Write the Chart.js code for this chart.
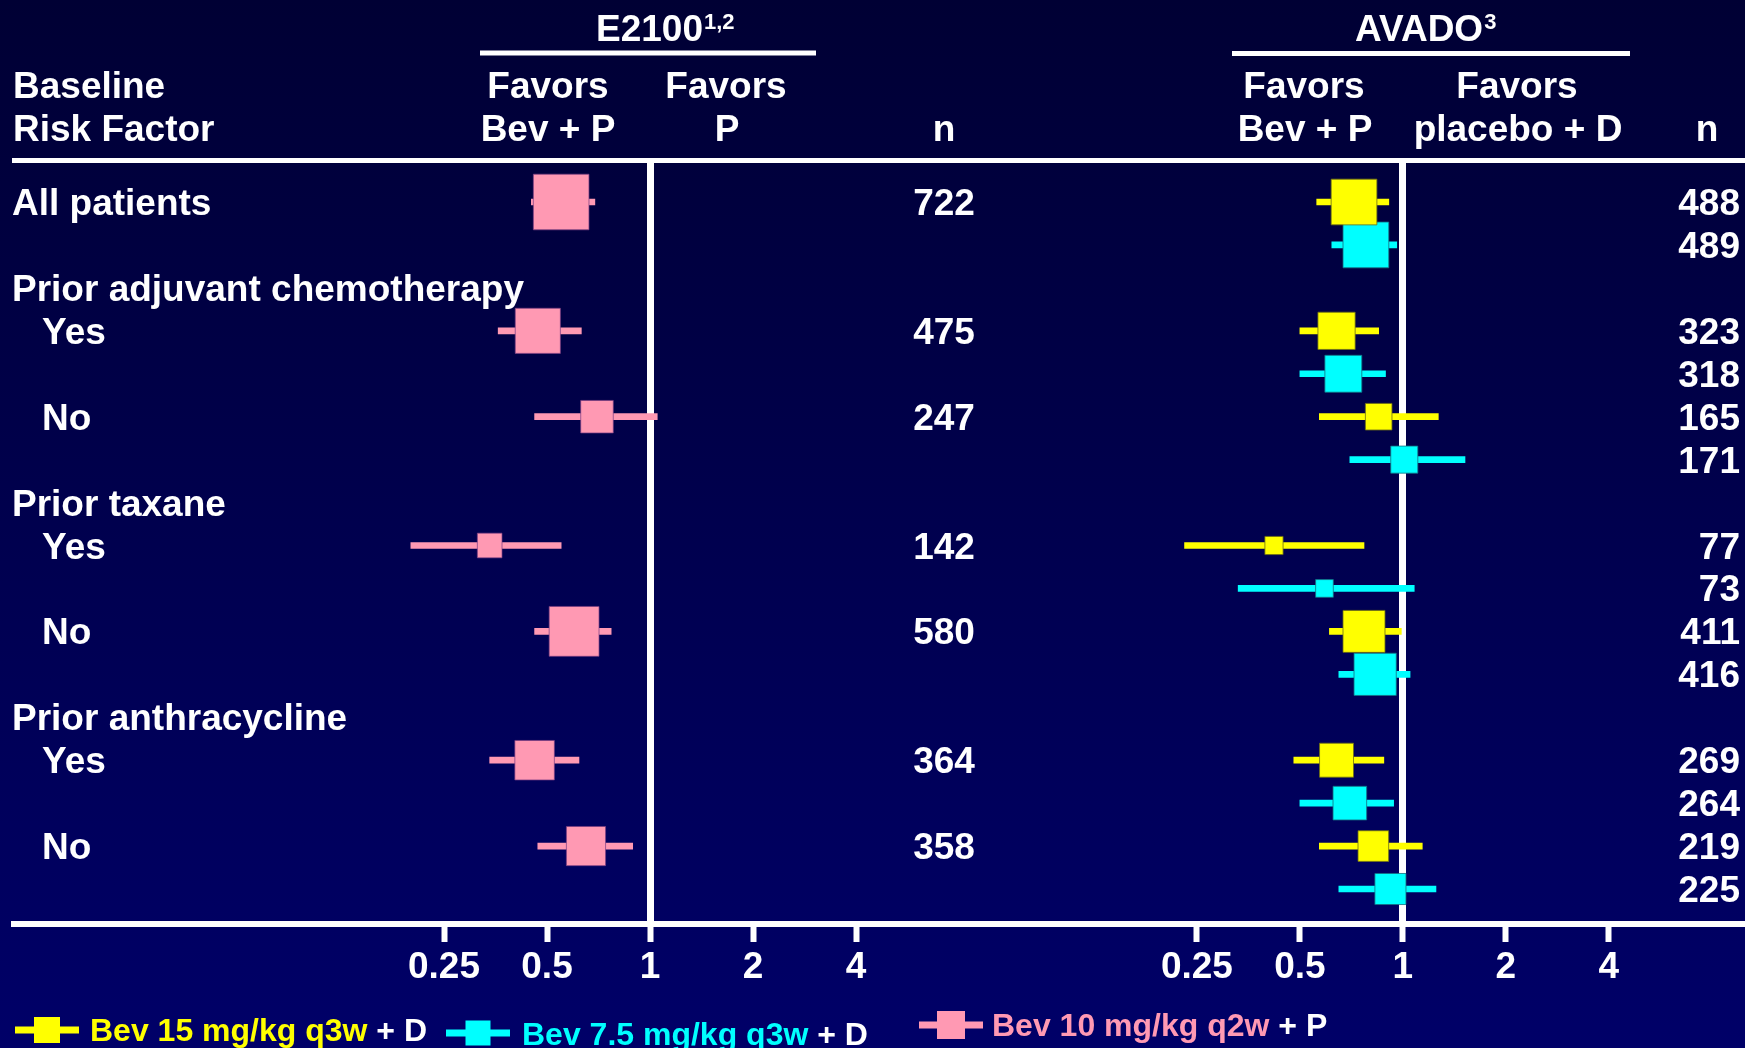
<!DOCTYPE html>
<html>
<head>
<meta charset="utf-8">
<title>E2100 / AVADO — subgroups</title>
<script src="https://cdn.jsdelivr.net/npm/chart.js@4.4.1/dist/chart.umd.min.js"></script>
<style>
  html, body { margin: 0; padding: 0; }
  body { width: 1745px; height: 1048px; overflow: hidden; position: relative;
    background: linear-gradient(180deg, #000034 0%, #000068 100%); }
  canvas { position: absolute; left: 0; top: 0; }
</style>
</head>
<body>
<canvas id="e2100Chart" width="1745" height="1048"></canvas>
<canvas id="avadoChart" width="1745" height="1048"></canvas>
<script>
"use strict";

// Row slots of the table, top to bottom ("" = second AVADO arm of the row above).
const rowLabels = ["All patients", "", "Prior adjuvant chemotherapy", "Yes", "", "No", "",
  "Prior taxane", "Yes", "", "No", "", "Prior anthracycline", "Yes", "", "No", ""];
const axisTicks = [0.25, 0.5, 1, 2, 4];

// E2100: Bev 10 mg/kg q2w + paclitaxel vs paclitaxel — hazard ratio and 95% CI.
const e2100Rows = [0, 3, 5, 8, 10, 13, 15];
const e2100Hr = [0.55, 0.47, 0.70, 0.34, 0.60, 0.46, 0.65];
const e2100Lo = [0.45, 0.36, 0.46, 0.20, 0.46, 0.34, 0.47];
const e2100Hi = [0.69, 0.63, 1.05, 0.55, 0.77, 0.62, 0.89];
const e2100N = [722, 475, 247, 142, 580, 364, 358];

// AVADO: Bev 15 mg/kg q3w + docetaxel vs placebo + docetaxel.
const avado15Rows = [0, 3, 5, 8, 10, 13, 15];
const avado15Hr = [0.72, 0.64, 0.85, 0.42, 0.77, 0.64, 0.82];
const avado15Lo = [0.56, 0.50, 0.57, 0.23, 0.61, 0.48, 0.57];
const avado15Hi = [0.91, 0.85, 1.27, 0.77, 0.99, 0.88, 1.14];
const avado15N = [488, 323, 165, 77, 411, 269, 219];

// AVADO: Bev 7.5 mg/kg q3w + docetaxel vs placebo + docetaxel.
const avado75Rows = [1, 4, 6, 9, 11, 14, 16];
const avado75Hr = [0.78, 0.67, 1.01, 0.59, 0.83, 0.70, 0.92];
const avado75Lo = [0.62, 0.50, 0.70, 0.33, 0.65, 0.50, 0.65];
const avado75Hi = [0.96, 0.89, 1.52, 1.08, 1.05, 0.94, 1.25];
const avado75N = [489, 318, 171, 73, 416, 264, 225];

const legendItems = [
  { label: "Bev 15 mg/kg q3w", suffix: " + D", color: "#ffff00" },
  { label: "Bev 7.5 mg/kg q3w", suffix: " + D", color: "#00ffff" },
  { label: "Bev 10 mg/kg q2w", suffix: " + P", color: "#ff99b3" },
];

const FONT = "'Liberation Sans', Arial, Helvetica, sans-serif";
const WHITE = "#ffffff";
const SIZE = 37;

function text(ctx, str, x, y, size, color, align) {
  ctx.font = "bold " + size + "px " + FONT;
  ctx.fillStyle = color || WHITE;
  ctx.textAlign = align || "left";
  ctx.textBaseline = "alphabetic";
  ctx.fillText(str, x, y);
  return ctx.measureText(str).width;
}

// Text made of several coloured pieces, written one after another.
function pieces(ctx, parts, x, y, size) {
  parts.forEach(([s, c]) => { x += text(ctx, s, x, y, size, c); });
}

function rule(ctx, x1, x2, y, w) {
  ctx.fillStyle = WHITE;
  ctx.fillRect(x1, y - w / 2, x2 - x1, w);
}

// Legend glyph: a CI bar with a box on it.
function marker(ctx, x, y, color, box) {
  ctx.fillStyle = color;
  ctx.fillRect(x, y - 3.5, 64, 7);
  ctx.fillRect(x + 32 - box / 2, y - box / 2, box, box);
}

// Box side grows with the square root of n, as in the original.
const boxRadius = (n) => 1.464 * Math.sqrt(n);

function series(label, color, edge, rows, hr, lo, hi, n) {
  return [
    {
      type: "scatter", label, order: 0,
      data: rows.map((r, i) => ({ x: hr[i], y: r })),
      pointStyle: "rect", backgroundColor: color, borderColor: edge, borderWidth: 1,
      pointRadius: (c) => boxRadius(n[c.dataIndex]),
      pointHoverRadius: (c) => boxRadius(n[c.dataIndex]),
    },
    {
      type: "bar", label: label + " 95% CI", order: 1, indexAxis: "y",
      data: rows.map((r, i) => ({ x: [lo[i], hi[i]], y: r })),
      backgroundColor: color, borderWidth: 0, barThickness: 6, grouped: false,
    },
  ];
}

function scales() {
  return {
    x: {
      type: "logarithmic", min: 0.125, max: 8, bounds: "data",
      afterBuildTicks: (s) => { s.ticks = axisTicks.map((v) => ({ value: v })); },
      afterFit: (s) => { s.height = 60; },
      border: { display: false },
      grid: {
        color: (c) => (c.tick && c.tick.value === 1 ? WHITE : "transparent"),
        lineWidth: 7, tickColor: WHITE, tickWidth: 6, tickLength: 18,
      },
      ticks: {
        color: WHITE, padding: 4, autoSkip: false, maxRotation: 0,
        font: { family: FONT, size: SIZE, weight: "bold" },
        callback: (v) => String(v),
      },
    },
    // rows are spread over the whole plot height; no half-slot offset of bar charts
    y: { type: "linear", reverse: true, min: -0.955, max: 16.815, offset: false, display: false },
  };
}

function options(padLeft, padRight) {
  return {
    responsive: false, animation: false, devicePixelRatio: 1,
    layout: { padding: { left: padLeft, right: padRight, top: 161, bottom: 64 } },
    plugins: { legend: { display: false }, tooltip: { enabled: false } },
    scales: scales(),
  };
}

const rowBase = (chart, i) => chart.scales.y.getPixelForValue(i) + 13;

// Headers, row names, E2100 n column, rules and legend.
const e2100Decor = {
  id: "e2100Decor",
  afterDraw(chart) {
    const ctx = chart.ctx;
    ctx.save();
    rule(ctx, 12, 1745, 160.5, 5);
    rule(ctx, 11, 1745, 924, 6);
    rule(ctx, 480, 816, 53, 5);
    rule(ctx, 1232, 1630, 53.5, 5);

    text(ctx, "Baseline", 13, 98, SIZE);
    text(ctx, "Risk Factor", 13, 141, SIZE);
    const w1 = text(ctx, "E2100", 596, 41, SIZE);
    text(ctx, "1,2", 596 + w1 + 1, 29, 22);
    const w2 = text(ctx, "AVADO", 1355, 41, SIZE);
    text(ctx, "3", 1355 + w2 + 1, 29, 22);
    text(ctx, "Favors", 548, 98, SIZE, WHITE, "center");
    text(ctx, "Bev + P", 548, 141, SIZE, WHITE, "center");
    text(ctx, "Favors", 726, 98, SIZE, WHITE, "center");
    text(ctx, "P", 727, 141, SIZE, WHITE, "center");
    text(ctx, "n", 944, 141, SIZE, WHITE, "center");
    text(ctx, "Favors", 1304, 98, SIZE, WHITE, "center");
    text(ctx, "Bev + P", 1305, 141, SIZE, WHITE, "center");
    text(ctx, "Favors", 1517, 98, SIZE, WHITE, "center");
    text(ctx, "placebo + D", 1518, 141, SIZE, WHITE, "center");
    text(ctx, "n", 1707, 141, SIZE, WHITE, "center");

    rowLabels.forEach((lab, i) => {
      if (!lab) return;
      const sub = lab === "Yes" || lab === "No";
      text(ctx, lab, sub ? 42 : 12, rowBase(chart, i), SIZE);
    });
    e2100Rows.forEach((r, i) => text(ctx, String(e2100N[i]), 944, rowBase(chart, r), SIZE, WHITE, "center"));

    const spots = [[15, 1030, 90, 1041, 26], [446, 1033, 522, 1045, 25], [919, 1025, 992, 1036, 28]];
    legendItems.forEach((it, i) => {
      const [mx, my, tx, ty, box] = spots[i];
      marker(ctx, mx, my, it.color, box);
      pieces(ctx, [[it.label, it.color], [it.suffix, WHITE]], tx, ty, 32);
    });
    ctx.restore();
  },
};

// AVADO n column, right aligned.
const avadoDecor = {
  id: "avadoDecor",
  afterDraw(chart) {
    const ctx = chart.ctx;
    ctx.save();
    avado15Rows.forEach((r, i) => text(ctx, String(avado15N[i]), 1740, rowBase(chart, r), SIZE, WHITE, "right"));
    avado75Rows.forEach((r, i) => text(ctx, String(avado75N[i]), 1740, rowBase(chart, r), SIZE, WHITE, "right"));
    ctx.restore();
  },
};

new Chart(document.getElementById("e2100Chart"), {
  type: "scatter",
  data: { datasets: series("Bev 10 mg/kg q2w + P", "#ff99b3", "rgba(120,60,130,0.7)",
    e2100Rows, e2100Hr, e2100Lo, e2100Hi, e2100N) },
  options: options(341, 1745 - 959),
  plugins: [e2100Decor],
});

new Chart(document.getElementById("avadoChart"), {
  type: "scatter",
  data: { datasets: [
    ...series("Bev 15 mg/kg q3w + D", "#ffff00", "rgba(110,110,20,0.8)",
      avado15Rows, avado15Hr, avado15Lo, avado15Hi, avado15N),
    ...series("Bev 7.5 mg/kg q3w + D", "#00ffff", "rgba(20,110,130,0.8)",
      avado75Rows, avado75Hr, avado75Lo, avado75Hi, avado75N),
  ] },
  options: options(1094, 1745 - 1712),
  plugins: [avadoDecor],
});
</script>
</body>
</html>
